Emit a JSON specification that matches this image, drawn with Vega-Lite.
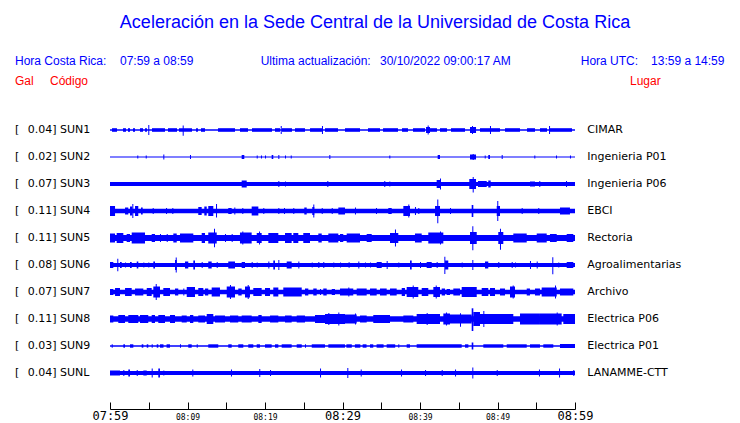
{
"$schema": "https://vega.github.io/schema/vega-lite/v6.json",
"width": 465, "height": 306,
"autosize": {"type": "none"},
"padding": {"left": 110, "top": 103, "right": 165, "bottom": 14},
"background": "white",
"config": {"view": {"stroke": null}},
"title": {"text": "Aceleración en la Sede Central de la Universidad de Costa Rica", "font": "Liberation Sans", "fontSize": 18, "fontWeight": "normal", "color": "#0000ff", "anchor": "middle", "frame": "group", "dx": 32.5, "offset": 9, "baseline": "alphabetic"},
"resolve": {"scale": {"y": "independent"}, "axis": {"x": "independent"}},
"datasets": {
"labels": [
{"row":0,"code":"0.04] SUN1","place":"CIMAR"},
{"row":1,"code":"0.02] SUN2","place":"Ingenieria P01"},
{"row":2,"code":"0.07] SUN3","place":"Ingenieria P06"},
{"row":3,"code":"0.11] SUN4","place":"EBCI"},
{"row":4,"code":"0.11] SUN5","place":"Rectoria"},
{"row":5,"code":"0.08] SUN6","place":"Agroalimentarias"},
{"row":6,"code":"0.07] SUN7","place":"Archivo"},
{"row":7,"code":"0.11] SUN8","place":"Electrica P06"},
{"row":8,"code":"0.03] SUN9","place":"Electrica P01"},
{"row":9,"code":"0.04] SUNL","place":"LANAMME-CTT"}],
"headBlue": [
{"tx":-12.26,"ty":-2.563,"txt":"Hora Costa Rica:"},
{"tx":1.29,"ty":-2.563,"txt":"07:59 a 08:59"},
{"tx":19.44,"ty":-2.563,"txt":"Ultima actualización:"},
{"tx":34.84,"ty":-2.563,"txt":"30/10/2022 09:00:17 AM"},
{"tx":60.74,"ty":-2.563,"txt":"Hora UTC:"},
{"tx":69.81,"ty":-2.563,"txt":"13:59 a 14:59"}],
"headRed": [
{"tx":-12.26,"ty":-1.815,"txt":"Gal"},
{"tx":-7.74,"ty":-1.815,"txt":"Código"},
{"tx":67.10,"ty":-1.815,"txt":"Lugar"}],
"sun1": [
{"a":0,"b":60,"h":0.8,"l":-0.8},
{"a":0.26,"b":0.90,"h":1.8,"l":-1.8},{"a":1.68,"b":2.06,"h":1.8,"l":-1.8},{"a":2.32,"b":2.58,"h":1.8,"l":-1.8},{"a":2.97,"b":3.23,"h":1.8,"l":-1.8},{"a":3.87,"b":4.26,"h":1.8,"l":-1.8},{"a":4.52,"b":4.77,"h":1.8,"l":-1.8},{"a":5.42,"b":7.10,"h":1.8,"l":-1.8},{"a":7.48,"b":8.65,"h":1.8,"l":-1.8},{"a":8.90,"b":10.58,"h":1.8,"l":-1.8},{"a":11.10,"b":11.35,"h":1.8,"l":-1.8},{"a":11.74,"b":12.26,"h":1.8,"l":-1.8},{"a":13.94,"b":16.13,"h":1.8,"l":-1.8},{"a":16.77,"b":17.81,"h":1.8,"l":-1.8},{"a":18.32,"b":20.90,"h":1.8,"l":-1.8},{"a":21.29,"b":21.94,"h":1.8,"l":-1.8},{"a":22.19,"b":23.48,"h":1.8,"l":-1.8},{"a":23.87,"b":25.16,"h":1.8,"l":-1.8},{"a":25.81,"b":27.35,"h":1.8,"l":-1.8},{"a":27.74,"b":29.42,"h":1.8,"l":-1.8},{"a":30.32,"b":32.26,"h":1.8,"l":-1.8},{"a":33.29,"b":34.84,"h":1.8,"l":-1.8},{"a":35.23,"b":37.16,"h":1.8,"l":-1.8},{"a":37.68,"b":38.45,"h":1.8,"l":-1.8},{"a":39.10,"b":40.65,"h":1.8,"l":-1.8},{"a":41.29,"b":42.19,"h":1.8,"l":-1.8},{"a":42.58,"b":43.48,"h":1.8,"l":-1.8},{"a":44.00,"b":45.81,"h":1.8,"l":-1.8},{"a":46.45,"b":47.23,"h":1.8,"l":-1.8},{"a":47.74,"b":50.32,"h":1.8,"l":-1.8},{"a":50.97,"b":52.90,"h":1.8,"l":-1.8},{"a":53.81,"b":54.84,"h":1.8,"l":-1.8},{"a":55.48,"b":56.39,"h":1.8,"l":-1.8},{"a":56.77,"b":59.61,"h":1.8,"l":-1.8},
{"a":4.94,"b":5.07,"h":5,"l":-5},{"a":9.38,"b":9.51,"h":4.5,"l":-5.7},{"a":22.03,"b":22.16,"h":4,"l":-4},{"a":27.35,"b":27.48,"h":4,"l":-4},{"a":40.99,"b":41.12,"h":4.5,"l":-4.5},{"a":46.71,"b":46.84,"h":4,"l":-4},{"a":49.03,"b":49.16,"h":4,"l":-4},{"a":56.65,"b":56.78,"h":4,"l":-4},{"a":40.78,"b":41.29,"h":3,"l":-3},{"a":46.45,"b":47.23,"h":3,"l":-3}],
"sun2": [
{"a":0,"b":60,"h":0.6,"l":-0.6},
{"a":3.52,"b":3.65,"h":1.5,"l":-1.5},{"a":4.61,"b":4.74,"h":1.5,"l":-1.5},{"a":6.88,"b":7.01,"h":2.5,"l":-2.5},{"a":10.32,"b":10.45,"h":2,"l":-2},{"a":16.99,"b":17.33,"h":2,"l":-2},{"a":18.93,"b":19.06,"h":1.5,"l":-1.5},{"a":19.48,"b":19.61,"h":1.5,"l":-1.5},{"a":20.00,"b":20.13,"h":1.5,"l":-1.5},{"a":20.86,"b":21.07,"h":2,"l":-2},{"a":21.72,"b":21.85,"h":2,"l":-2},{"a":22.58,"b":22.71,"h":1.5,"l":-1.5},{"a":23.32,"b":23.45,"h":1.5,"l":-1.5},{"a":28.30,"b":28.43,"h":2,"l":-2},{"a":36.04,"b":36.17,"h":1.5,"l":-1.5},{"a":42.28,"b":42.58,"h":2,"l":-2},{"a":46.45,"b":47.23,"h":2.5,"l":-2.5},{"a":46.80,"b":46.93,"h":3,"l":-3},{"a":48.35,"b":48.48,"h":1.5,"l":-1.5},{"a":48.81,"b":49.03,"h":2,"l":-2},{"a":50.54,"b":50.67,"h":2,"l":-2},{"a":54.75,"b":54.88,"h":1.5,"l":-1.5},{"a":57.55,"b":57.68,"h":1.5,"l":-1.5},{"a":59.35,"b":59.48,"h":1.5,"l":-1.5}],
"sun3": [
{"a":0,"b":60,"h":2,"l":-2},
{"a":16.99,"b":17.64,"h":3.5,"l":-3.5},{"a":21.72,"b":21.85,"h":3,"l":-3},{"a":22.58,"b":22.71,"h":2.5,"l":-2.5},{"a":28.04,"b":28.17,"h":3,"l":-3},{"a":35.39,"b":35.52,"h":3,"l":-3},{"a":36.04,"b":36.17,"h":2.5,"l":-2.5},{"a":42.15,"b":42.58,"h":4,"l":-4},{"a":42.58,"b":42.71,"h":5.5,"l":-5.5},{"a":46.36,"b":47.23,"h":5,"l":-5},{"a":46.80,"b":46.93,"h":7,"l":-8.5},{"a":47.48,"b":48.61,"h":3,"l":-3},{"a":48.81,"b":49.12,"h":3.5,"l":-3.5},{"a":54.19,"b":54.84,"h":2.5,"l":-2.5},{"a":55.39,"b":55.52,"h":3,"l":-3},{"a":58.84,"b":58.97,"h":3,"l":-3}],
"sun4": [
{"a":0,"b":60,"h":2.2,"l":-2.2},
{"a":0,"b":0.65,"h":5,"l":-5},{"a":1.94,"b":2.36,"h":3.5,"l":-3.5},{"a":2.58,"b":2.88,"h":4.5,"l":-4.5},{"a":2.88,"b":3.01,"h":7,"l":-7},{"a":3.23,"b":3.65,"h":5,"l":-5},{"a":4.00,"b":4.22,"h":3.5,"l":-3.5},{"a":5.51,"b":5.64,"h":3,"l":-3},{"a":7.23,"b":7.36,"h":3,"l":-3},{"a":8.04,"b":8.17,"h":3,"l":-3},{"a":11.39,"b":11.83,"h":4,"l":-4},{"a":12.17,"b":12.48,"h":4.5,"l":-4.5},{"a":12.68,"b":13.33,"h":5,"l":-5},{"a":13.68,"b":13.81,"h":7,"l":-6.5},{"a":15.26,"b":15.70,"h":3,"l":-3},{"a":16.04,"b":16.17,"h":3.5,"l":-3.5},{"a":17.07,"b":17.20,"h":3,"l":-3},{"a":18.28,"b":19.14,"h":4.5,"l":-4.5},{"a":19.78,"b":19.91,"h":3,"l":-3},{"a":21.72,"b":21.85,"h":3,"l":-3},{"a":22.45,"b":22.58,"h":3,"l":-3},{"a":23.65,"b":23.78,"h":3,"l":-3},{"a":25.07,"b":25.38,"h":3.5,"l":-3.5},{"a":26.10,"b":26.36,"h":4,"l":-4},{"a":26.23,"b":26.36,"h":6.5,"l":-6.5},{"a":27.32,"b":27.45,"h":3,"l":-3},{"a":28.61,"b":28.74,"h":3,"l":-3},{"a":29.46,"b":30.32,"h":3.5,"l":-3.5},{"a":31.61,"b":31.74,"h":3.5,"l":-3.5},{"a":34.32,"b":34.45,"h":3,"l":-3},{"a":35.91,"b":36.35,"h":3,"l":-3},{"a":37.85,"b":38.71,"h":5,"l":-5},{"a":38.49,"b":38.62,"h":6.5,"l":-6.5},{"a":39.35,"b":39.48,"h":4,"l":-4},{"a":39.78,"b":39.91,"h":3,"l":-3},{"a":41.94,"b":42.58,"h":5,"l":-5},{"a":42.23,"b":42.36,"h":11.5,"l":-12.3},{"a":43.87,"b":44.00,"h":3,"l":-3},{"a":46.67,"b":46.88,"h":6,"l":-6},{"a":49.90,"b":50.32,"h":5,"l":-5},{"a":49.97,"b":50.10,"h":10,"l":-10},{"a":53.12,"b":53.25,"h":3,"l":-3},{"a":55.26,"b":55.39,"h":3,"l":-3},{"a":58.06,"b":59.35,"h":3.5,"l":-3.5}],
"sun5": [
{"a":0,"b":60,"h":3,"l":-3},
{"a":0,"b":0.65,"h":4.5,"l":-4.5},{"a":0.86,"b":1.72,"h":5,"l":-5},{"a":2.15,"b":2.58,"h":4,"l":-4},{"a":2.80,"b":4.52,"h":5.5,"l":-5.5},{"a":5.38,"b":5.81,"h":4,"l":-4},{"a":6.45,"b":6.58,"h":4,"l":-4},{"a":7.32,"b":7.45,"h":4,"l":-4},{"a":8.17,"b":8.61,"h":4.5,"l":-4.5},{"a":9.03,"b":10.75,"h":4.5,"l":-4.5},{"a":11.83,"b":12.26,"h":5,"l":-5},{"a":12.68,"b":13.77,"h":5.5,"l":-5.5},{"a":13.42,"b":13.55,"h":9.3,"l":-9.3},{"a":14.84,"b":14.97,"h":4,"l":-4},{"a":15.70,"b":15.83,"h":4,"l":-4},{"a":16.77,"b":18.28,"h":5.5,"l":-5.5},{"a":17.07,"b":17.20,"h":6.5,"l":-6.5},{"a":18.93,"b":19.57,"h":5,"l":-5},{"a":19.23,"b":19.36,"h":6.5,"l":-6.5},{"a":20.43,"b":21.72,"h":5,"l":-5},{"a":22.58,"b":23.44,"h":5,"l":-5},{"a":23.65,"b":24.30,"h":5,"l":-5},{"a":24.94,"b":25.81,"h":5,"l":-5},{"a":26.88,"b":27.32,"h":4.5,"l":-4.5},{"a":28.17,"b":29.46,"h":4.5,"l":-4.5},{"a":29.68,"b":30.10,"h":4,"l":-4},{"a":30.54,"b":32.26,"h":4.5,"l":-4.5},{"a":33.12,"b":33.77,"h":4,"l":-4},{"a":36.13,"b":37.20,"h":5,"l":-5},{"a":36.77,"b":36.90,"h":8.5,"l":-8.5},{"a":39.35,"b":40.22,"h":4.5,"l":-4.5},{"a":41.07,"b":43.01,"h":5.5,"l":-5.5},{"a":42.58,"b":42.71,"h":6.5,"l":-6.5},{"a":46.45,"b":47.32,"h":6,"l":-6},{"a":46.75,"b":46.88,"h":11.7,"l":-12.3},{"a":50.10,"b":50.75,"h":6,"l":-6},{"a":50.32,"b":50.45,"h":9.3,"l":-11.7},{"a":52.04,"b":53.77,"h":4.5,"l":-4.5},{"a":55.06,"b":56.35,"h":4.5,"l":-4.5},{"a":56.77,"b":57.64,"h":4,"l":-4},{"a":58.93,"b":59.78,"h":4,"l":-4}],
"sun6": [
{"a":0,"b":60,"h":2,"l":-2},
{"a":0,"b":0.43,"h":3,"l":-3},{"a":0.94,"b":1.07,"h":6.3,"l":-6.3},{"a":1.29,"b":1.51,"h":3,"l":-3},{"a":1.94,"b":2.07,"h":2.5,"l":-2.5},{"a":2.58,"b":2.80,"h":3,"l":-3},{"a":3.45,"b":3.65,"h":3.5,"l":-3.5},{"a":4.30,"b":4.43,"h":2.5,"l":-2.5},{"a":4.94,"b":5.07,"h":2.5,"l":-2.5},{"a":5.59,"b":5.81,"h":3.5,"l":-3.5},{"a":8.39,"b":8.61,"h":5,"l":-5},{"a":8.48,"b":8.61,"h":7.5,"l":-7.5},{"a":9.68,"b":10.10,"h":3.5,"l":-3.5},{"a":10.75,"b":10.97,"h":4.5,"l":-4.5},{"a":11.83,"b":11.96,"h":3,"l":-3},{"a":12.68,"b":13.12,"h":3.5,"l":-3.5},{"a":13.77,"b":13.90,"h":3,"l":-3},{"a":15.26,"b":16.13,"h":3.5,"l":-3.5},{"a":16.99,"b":17.42,"h":3,"l":-3},{"a":18.28,"b":18.41,"h":3,"l":-3},{"a":18.93,"b":19.06,"h":2.5,"l":-2.5},{"a":20.43,"b":20.56,"h":3.5,"l":-3.5},{"a":21.07,"b":21.29,"h":4.5,"l":-4.5},{"a":21.72,"b":21.85,"h":5,"l":-5},{"a":22.80,"b":23.44,"h":3.5,"l":-3.5},{"a":24.30,"b":24.43,"h":3.5,"l":-3.5},{"a":26.03,"b":26.16,"h":2.5,"l":-2.5},{"a":26.88,"b":27.01,"h":3,"l":-3},{"a":27.52,"b":27.65,"h":3,"l":-3},{"a":28.81,"b":28.94,"h":2.5,"l":-2.5},{"a":29.68,"b":29.81,"h":2.5,"l":-2.5},{"a":30.75,"b":30.97,"h":2.5,"l":-2.5},{"a":32.04,"b":32.17,"h":3.5,"l":-3.5},{"a":32.90,"b":33.03,"h":2.5,"l":-2.5},{"a":33.55,"b":33.68,"h":2.5,"l":-2.5},{"a":34.41,"b":35.06,"h":3,"l":-3},{"a":35.70,"b":35.83,"h":4,"l":-4},{"a":37.20,"b":37.33,"h":2.5,"l":-2.5},{"a":38.71,"b":38.93,"h":4.5,"l":-4.5},{"a":40.00,"b":40.13,"h":3,"l":-3},{"a":40.86,"b":41.51,"h":3,"l":-3},{"a":42.15,"b":42.28,"h":3,"l":-3},{"a":43.14,"b":43.27,"h":8.3,"l":-9},{"a":43.23,"b":43.65,"h":4.5,"l":-4.5},{"a":45.38,"b":45.51,"h":2.5,"l":-2.5},{"a":46.75,"b":46.88,"h":5,"l":-5},{"a":48.39,"b":48.81,"h":3.5,"l":-3.5},{"a":50.10,"b":50.23,"h":3,"l":-3},{"a":51.83,"b":51.96,"h":3,"l":-3},{"a":52.26,"b":52.39,"h":2.5,"l":-2.5},{"a":54.19,"b":54.32,"h":4,"l":-4},{"a":55.06,"b":55.19,"h":3.5,"l":-3.5},{"a":57.07,"b":57.20,"h":7.7,"l":-9.3},{"a":57.84,"b":57.97,"h":2.5,"l":-2.5},{"a":58.93,"b":59.78,"h":3,"l":-3}],
"sun7": [
{"a":0,"b":60,"h":2.2,"l":-2.2},
{"a":0,"b":0.43,"h":3,"l":-3},{"a":0.65,"b":1.29,"h":4,"l":-4},{"a":1.94,"b":2.80,"h":4,"l":-4},{"a":3.23,"b":4.30,"h":3.5,"l":-3.5},{"a":4.74,"b":5.38,"h":4,"l":-4},{"a":5.59,"b":6.45,"h":5.5,"l":-5.5},{"a":5.90,"b":6.03,"h":8,"l":-8},{"a":6.88,"b":7.74,"h":4,"l":-4},{"a":8.39,"b":8.81,"h":3.5,"l":-3.5},{"a":9.46,"b":9.59,"h":3.5,"l":-3.5},{"a":9.90,"b":10.97,"h":5,"l":-5},{"a":11.39,"b":12.04,"h":4,"l":-4},{"a":12.26,"b":12.68,"h":3.5,"l":-3.5},{"a":13.12,"b":14.19,"h":4.5,"l":-4.5},{"a":15.06,"b":16.13,"h":5.5,"l":-5.5},{"a":15.48,"b":15.61,"h":7,"l":-7},{"a":16.55,"b":16.99,"h":3.5,"l":-3.5},{"a":17.42,"b":18.06,"h":5.5,"l":-5.5},{"a":17.77,"b":17.90,"h":7,"l":-7},{"a":18.49,"b":19.57,"h":4,"l":-4},{"a":20.00,"b":20.65,"h":4,"l":-4},{"a":21.07,"b":21.72,"h":4.5,"l":-4.5},{"a":22.36,"b":24.74,"h":4.5,"l":-4.5},{"a":25.16,"b":25.59,"h":3.5,"l":-3.5},{"a":26.23,"b":26.67,"h":3.5,"l":-3.5},{"a":27.10,"b":27.23,"h":3,"l":-3},{"a":27.52,"b":27.96,"h":3.5,"l":-3.5},{"a":28.61,"b":29.03,"h":3,"l":-3},{"a":29.68,"b":31.39,"h":3.5,"l":-3.5},{"a":30.75,"b":30.88,"h":4.5,"l":-4.5},{"a":31.83,"b":33.12,"h":3.5,"l":-3.5},{"a":33.55,"b":34.41,"h":3.5,"l":-3.5},{"a":34.84,"b":35.70,"h":3.5,"l":-3.5},{"a":36.13,"b":36.99,"h":3.5,"l":-3.5},{"a":37.64,"b":38.06,"h":4,"l":-4},{"a":38.28,"b":39.78,"h":5,"l":-5},{"a":39.06,"b":39.19,"h":6.5,"l":-6.5},{"a":40.22,"b":41.07,"h":4,"l":-4},{"a":41.72,"b":42.58,"h":5,"l":-5},{"a":42.03,"b":42.16,"h":6.5,"l":-6.5},{"a":42.80,"b":43.23,"h":3.5,"l":-3.5},{"a":43.44,"b":43.87,"h":3,"l":-3},{"a":44.30,"b":45.16,"h":3.5,"l":-3.5},{"a":45.38,"b":47.32,"h":5,"l":-5},{"a":47.96,"b":48.81,"h":4,"l":-4},{"a":49.03,"b":49.68,"h":4,"l":-4},{"a":50.32,"b":50.97,"h":3.5,"l":-3.5},{"a":51.61,"b":52.26,"h":5.5,"l":-5.5},{"a":51.96,"b":52.09,"h":6.5,"l":-6.5},{"a":53.77,"b":54.19,"h":3.5,"l":-3.5},{"a":54.84,"b":55.48,"h":3.5,"l":-3.5},{"a":55.70,"b":57.64,"h":4.5,"l":-4.5},{"a":57.42,"b":57.55,"h":6.5,"l":-6.5},{"a":58.06,"b":59.78,"h":3.5,"l":-3.5}],
"sun8": [
{"a":0,"b":60,"h":2.8,"l":-2.8},
{"a":0,"b":0.43,"h":3.5,"l":-3.5},{"a":1.07,"b":1.94,"h":4,"l":-4},{"a":2.36,"b":3.65,"h":4,"l":-4},{"a":3.87,"b":4.94,"h":4,"l":-4},{"a":5.38,"b":5.81,"h":4,"l":-4},{"a":6.23,"b":7.10,"h":4,"l":-4},{"a":7.74,"b":8.39,"h":4,"l":-4},{"a":9.25,"b":9.90,"h":3.5,"l":-3.5},{"a":10.32,"b":10.75,"h":4,"l":-4},{"a":11.39,"b":12.26,"h":3.5,"l":-3.5},{"a":12.48,"b":13.33,"h":5,"l":-5},{"a":13.55,"b":14.84,"h":3.5,"l":-3.5},{"a":15.48,"b":16.55,"h":3.5,"l":-3.5},{"a":16.99,"b":18.28,"h":3.5,"l":-3.5},{"a":19.14,"b":19.57,"h":4,"l":-4},{"a":20.65,"b":21.72,"h":3.5,"l":-3.5},{"a":22.58,"b":23.44,"h":3.5,"l":-3.5},{"a":24.09,"b":25.16,"h":3.5,"l":-3.5},{"a":26.45,"b":27.74,"h":4,"l":-4},{"a":27.74,"b":30.32,"h":5,"l":-5},{"a":28.17,"b":28.30,"h":6,"l":-6},{"a":29.46,"b":29.59,"h":6.5,"l":-6.5},{"a":29.68,"b":31.83,"h":4.5,"l":-4.5},{"a":31.61,"b":31.74,"h":5.5,"l":-5.5},{"a":32.26,"b":33.12,"h":3.5,"l":-3.5},{"a":33.97,"b":36.13,"h":4,"l":-4},{"a":37.85,"b":39.14,"h":3.5,"l":-3.5},{"a":39.57,"b":42.58,"h":5,"l":-5},{"a":40.86,"b":40.99,"h":6,"l":-6},{"a":43.01,"b":43.87,"h":5.5,"l":-5.5},{"a":43.35,"b":43.48,"h":6.5,"l":-6.5},{"a":43.87,"b":46.67,"h":4.5,"l":-4.5},{"a":45.16,"b":45.29,"h":5.7,"l":-7.7},{"a":46.67,"b":46.88,"h":10.7,"l":-12},{"a":46.88,"b":47.74,"h":7,"l":-7},{"a":47.74,"b":52.04,"h":5,"l":-5},{"a":48.17,"b":48.30,"h":8,"l":-8},{"a":52.90,"b":55.48,"h":5.5,"l":-5.5},{"a":55.48,"b":58.28,"h":5.5,"l":-5.5},{"a":57.64,"b":57.77,"h":6.5,"l":-6.5},{"a":58.49,"b":60,"h":5,"l":-5}],
"sun9": [
{"a":0,"b":60,"h":0.8,"l":-0.8},
{"a":0.22,"b":0.35,"h":1.7,"l":-1.7},{"a":1.72,"b":1.94,"h":1.7,"l":-1.7},{"a":2.58,"b":3.01,"h":1.7,"l":-1.7},{"a":4.09,"b":4.30,"h":1.7,"l":-1.7},{"a":4.74,"b":4.94,"h":1.7,"l":-1.7},{"a":5.38,"b":5.51,"h":1.7,"l":-1.7},{"a":6.03,"b":6.23,"h":1.7,"l":-1.7},{"a":6.45,"b":6.90,"h":1.7,"l":-1.7},{"a":7.30,"b":7.74,"h":1.7,"l":-1.7},{"a":9.03,"b":9.16,"h":1.7,"l":-1.7},{"a":10.10,"b":10.54,"h":1.7,"l":-1.7},{"a":11.19,"b":11.32,"h":1.7,"l":-1.7},{"a":12.68,"b":13.97,"h":1.7,"l":-1.7},{"a":15.26,"b":15.70,"h":1.7,"l":-1.7},{"a":16.55,"b":17.20,"h":1.7,"l":-1.7},{"a":17.84,"b":18.49,"h":1.7,"l":-1.7},{"a":18.93,"b":19.35,"h":1.7,"l":-1.7},{"a":20.00,"b":20.86,"h":1.7,"l":-1.7},{"a":21.29,"b":21.72,"h":1.7,"l":-1.7},{"a":22.15,"b":23.44,"h":1.7,"l":-1.7},{"a":24.09,"b":24.74,"h":1.7,"l":-1.7},{"a":25.16,"b":25.29,"h":1.7,"l":-1.7},{"a":26.03,"b":27.74,"h":1.7,"l":-1.7},{"a":28.17,"b":30.32,"h":1.7,"l":-1.7},{"a":30.50,"b":31.20,"h":1.7,"l":-1.7},{"a":31.60,"b":32.30,"h":1.7,"l":-1.7},{"a":32.60,"b":33.10,"h":1.7,"l":-1.7},{"a":33.55,"b":33.97,"h":1.7,"l":-1.7},{"a":34.40,"b":35.30,"h":1.7,"l":-1.7},{"a":35.70,"b":36.80,"h":1.7,"l":-1.7},{"a":37.20,"b":37.33,"h":1.7,"l":-1.7},{"a":38.28,"b":38.71,"h":1.7,"l":-1.7},{"a":39.57,"b":45.38,"h":1.7,"l":-1.7},{"a":45.81,"b":46.24,"h":1.7,"l":-1.7},{"a":46.67,"b":46.88,"h":3.5,"l":-3.5},{"a":48.17,"b":50.75,"h":1.7,"l":-1.7},{"a":51.19,"b":53.77,"h":1.7,"l":-1.7},{"a":54.19,"b":55.48,"h":1.7,"l":-1.7},{"a":55.91,"b":57.20,"h":1.7,"l":-1.7},{"a":58.06,"b":60,"h":2,"l":-2}],
"sunl": [
{"a":0,"b":60,"h":2,"l":-2},
{"a":0,"b":1.29,"h":2.5,"l":-2.5},{"a":1.72,"b":1.85,"h":3,"l":-3},{"a":2.36,"b":2.58,"h":3.5,"l":-3.5},{"a":3.45,"b":3.58,"h":3,"l":-3},{"a":4.30,"b":4.74,"h":2.5,"l":-2.5},{"a":5.38,"b":5.51,"h":4.5,"l":-4.5},{"a":6.23,"b":6.45,"h":4.5,"l":-4.5},{"a":6.88,"b":7.01,"h":2.5,"l":-2.5},{"a":10.62,"b":10.75,"h":3.5,"l":-3.5},{"a":15.61,"b":15.74,"h":3.5,"l":-3.5},{"a":19.26,"b":19.39,"h":4,"l":-4},{"a":20.65,"b":20.78,"h":3,"l":-3},{"a":27.10,"b":27.23,"h":4.5,"l":-4.5},{"a":30.62,"b":30.75,"h":5,"l":-5},{"a":32.35,"b":32.48,"h":3.5,"l":-3.5},{"a":37.55,"b":37.68,"h":3.5,"l":-3.5},{"a":40.65,"b":40.78,"h":3,"l":-3},{"a":42.80,"b":42.93,"h":3,"l":-3},{"a":44.52,"b":44.65,"h":3.5,"l":-3.5},{"a":46.75,"b":46.88,"h":5.5,"l":-5.5},{"a":49.90,"b":50.03,"h":3,"l":-3},{"a":55.35,"b":55.48,"h":3.5,"l":-3.5},{"a":57.94,"b":58.07,"h":4.5,"l":-4.5},{"a":59.78,"b":59.91,"h":3,"l":-3}]
},
"layer": [
{"data":{"name":"sun1"},"mark":{"type":"rect","color":"#0000ff"},"encoding":{
 "x":{"field":"a","type":"quantitative","scale":{"domain":[0,60],"nice":false,"zero":false},
  "axis":{"orient":"bottom","values":[0,30,60],"labelExpr":"datum.value == 0 ? '07:59' : datum.value == 30 ? '08:29' : '08:59'","title":null,"grid":false,"domain":true,"domainColor":"#000000","domainWidth":1,"ticks":true,"tickColor":"#000000","tickWidth":1,"tickSize":-7,"labelColor":"#000000","labelFont":"DejaVu Sans Mono","labelFontSize":12,"labelBaseline":"middle","labelPadding":13.8,"labelFlush":false,"labelOverlap":false,"labelBound":false}},
 "x2":{"field":"b"},
 "y":{"field":"h","type":"quantitative","scale":{"domain":[-279,27],"nice":false,"zero":false},"axis":null},"y2":{"field":"l"}}},
{"data":{"name":"sun2"},"mark":{"type":"rect","color":"#0000ff"},"encoding":{"x":{"field":"a","type":"quantitative","scale":{"domain":[0,60],"nice":false,"zero":false},
  "axis":{"orient":"bottom","values":[5,10,15,20,25,35,40,45,50,55],"labelExpr":"datum.value == 10 ? '08:09' : datum.value == 20 ? '08:19' : datum.value == 40 ? '08:39' : datum.value == 50 ? '08:49' : ''","title":null,"grid":false,"domain":false,"ticks":true,"tickColor":"#000000","tickWidth":1,"tickSize":-7,"labelColor":"#000000","labelFont":"DejaVu Sans Mono","labelFontSize":8,"labelBaseline":"middle","labelPadding":15.5,"labelFlush":false,"labelOverlap":false,"labelBound":false}},
 "x2":{"field":"b"},"y":{"field":"h","type":"quantitative","scale":{"domain":[-252,54],"nice":false,"zero":false},"axis":null},"y2":{"field":"l"}}},
{"data":{"name":"sun3"},"mark":{"type":"rect","color":"#0000ff"},"encoding":{"x":{"field":"a","type":"quantitative","scale":{"domain":[0,60],"nice":false,"zero":false},"axis":null},"x2":{"field":"b"},"y":{"field":"h","type":"quantitative","scale":{"domain":[-225,81],"nice":false,"zero":false},"axis":null},"y2":{"field":"l"}}},
{"data":{"name":"sun4"},"mark":{"type":"rect","color":"#0000ff"},"encoding":{"x":{"field":"a","type":"quantitative","scale":{"domain":[0,60],"nice":false,"zero":false},"axis":null},"x2":{"field":"b"},"y":{"field":"h","type":"quantitative","scale":{"domain":[-198,108],"nice":false,"zero":false},"axis":null},"y2":{"field":"l"}}},
{"data":{"name":"sun5"},"mark":{"type":"rect","color":"#0000ff"},"encoding":{"x":{"field":"a","type":"quantitative","scale":{"domain":[0,60],"nice":false,"zero":false},"axis":null},"x2":{"field":"b"},"y":{"field":"h","type":"quantitative","scale":{"domain":[-171,135],"nice":false,"zero":false},"axis":null},"y2":{"field":"l"}}},
{"data":{"name":"sun6"},"mark":{"type":"rect","color":"#0000ff"},"encoding":{"x":{"field":"a","type":"quantitative","scale":{"domain":[0,60],"nice":false,"zero":false},"axis":null},"x2":{"field":"b"},"y":{"field":"h","type":"quantitative","scale":{"domain":[-144,162],"nice":false,"zero":false},"axis":null},"y2":{"field":"l"}}},
{"data":{"name":"sun7"},"mark":{"type":"rect","color":"#0000ff"},"encoding":{"x":{"field":"a","type":"quantitative","scale":{"domain":[0,60],"nice":false,"zero":false},"axis":null},"x2":{"field":"b"},"y":{"field":"h","type":"quantitative","scale":{"domain":[-117,189],"nice":false,"zero":false},"axis":null},"y2":{"field":"l"}}},
{"data":{"name":"sun8"},"mark":{"type":"rect","color":"#0000ff"},"encoding":{"x":{"field":"a","type":"quantitative","scale":{"domain":[0,60],"nice":false,"zero":false},"axis":null},"x2":{"field":"b"},"y":{"field":"h","type":"quantitative","scale":{"domain":[-90,216],"nice":false,"zero":false},"axis":null},"y2":{"field":"l"}}},
{"data":{"name":"sun9"},"mark":{"type":"rect","color":"#0000ff"},"encoding":{"x":{"field":"a","type":"quantitative","scale":{"domain":[0,60],"nice":false,"zero":false},"axis":null},"x2":{"field":"b"},"y":{"field":"h","type":"quantitative","scale":{"domain":[-63,243],"nice":false,"zero":false},"axis":null},"y2":{"field":"l"}}},
{"data":{"name":"sunl"},"mark":{"type":"rect","color":"#0000ff"},"encoding":{"x":{"field":"a","type":"quantitative","scale":{"domain":[0,60],"nice":false,"zero":false},"axis":null},"x2":{"field":"b"},"y":{"field":"h","type":"quantitative","scale":{"domain":[-36,270],"nice":false,"zero":false},"axis":null},"y2":{"field":"l"}}},
{"data":{"name":"labels"},"mark":{"type":"text","text":"[","align":"left","baseline":"middle","font":"DejaVu Sans","fontSize":11,"color":"#000000"},"encoding":{"x":{"datum":-12.26,"type":"quantitative","scale":{"domain":[0,60],"nice":false,"zero":false},"axis":null},"y":{"field":"row","type":"quantitative","scale":{"domain":[-1,10.333333],"reverse":true,"nice":false,"zero":false},"axis":null}}},
{"data":{"name":"labels"},"mark":{"type":"text","align":"left","baseline":"middle","font":"DejaVu Sans","fontSize":11,"color":"#000000"},"encoding":{"x":{"datum":-10.62,"type":"quantitative","scale":{"domain":[0,60],"nice":false,"zero":false},"axis":null},"y":{"field":"row","type":"quantitative","scale":{"domain":[-1,10.333333],"reverse":true,"nice":false,"zero":false},"axis":null},"text":{"field":"code"}}},
{"data":{"name":"labels"},"mark":{"type":"text","align":"left","baseline":"middle","font":"DejaVu Sans","fontSize":11,"color":"#000000"},"encoding":{"x":{"datum":61.59,"type":"quantitative","scale":{"domain":[0,60],"nice":false,"zero":false},"axis":null},"y":{"field":"row","type":"quantitative","scale":{"domain":[-1,10.333333],"reverse":true,"nice":false,"zero":false},"axis":null},"text":{"field":"place"}}},
{"data":{"name":"headBlue"},"mark":{"type":"text","align":"left","baseline":"middle","font":"Liberation Sans","fontSize":12,"color":"#0000ff"},"encoding":{"x":{"field":"tx","type":"quantitative","scale":{"domain":[0,60],"nice":false,"zero":false},"axis":null},"y":{"field":"ty","type":"quantitative","scale":{"domain":[-1,10.333333],"reverse":true,"nice":false,"zero":false},"axis":null},"text":{"field":"txt"}}},
{"data":{"name":"headRed"},"mark":{"type":"text","align":"left","baseline":"middle","font":"Liberation Sans","fontSize":12,"color":"#ff0000"},"encoding":{"x":{"field":"tx","type":"quantitative","scale":{"domain":[0,60],"nice":false,"zero":false},"axis":null},"y":{"field":"ty","type":"quantitative","scale":{"domain":[-1,10.333333],"reverse":true,"nice":false,"zero":false},"axis":null},"text":{"field":"txt"}}}
]
}
